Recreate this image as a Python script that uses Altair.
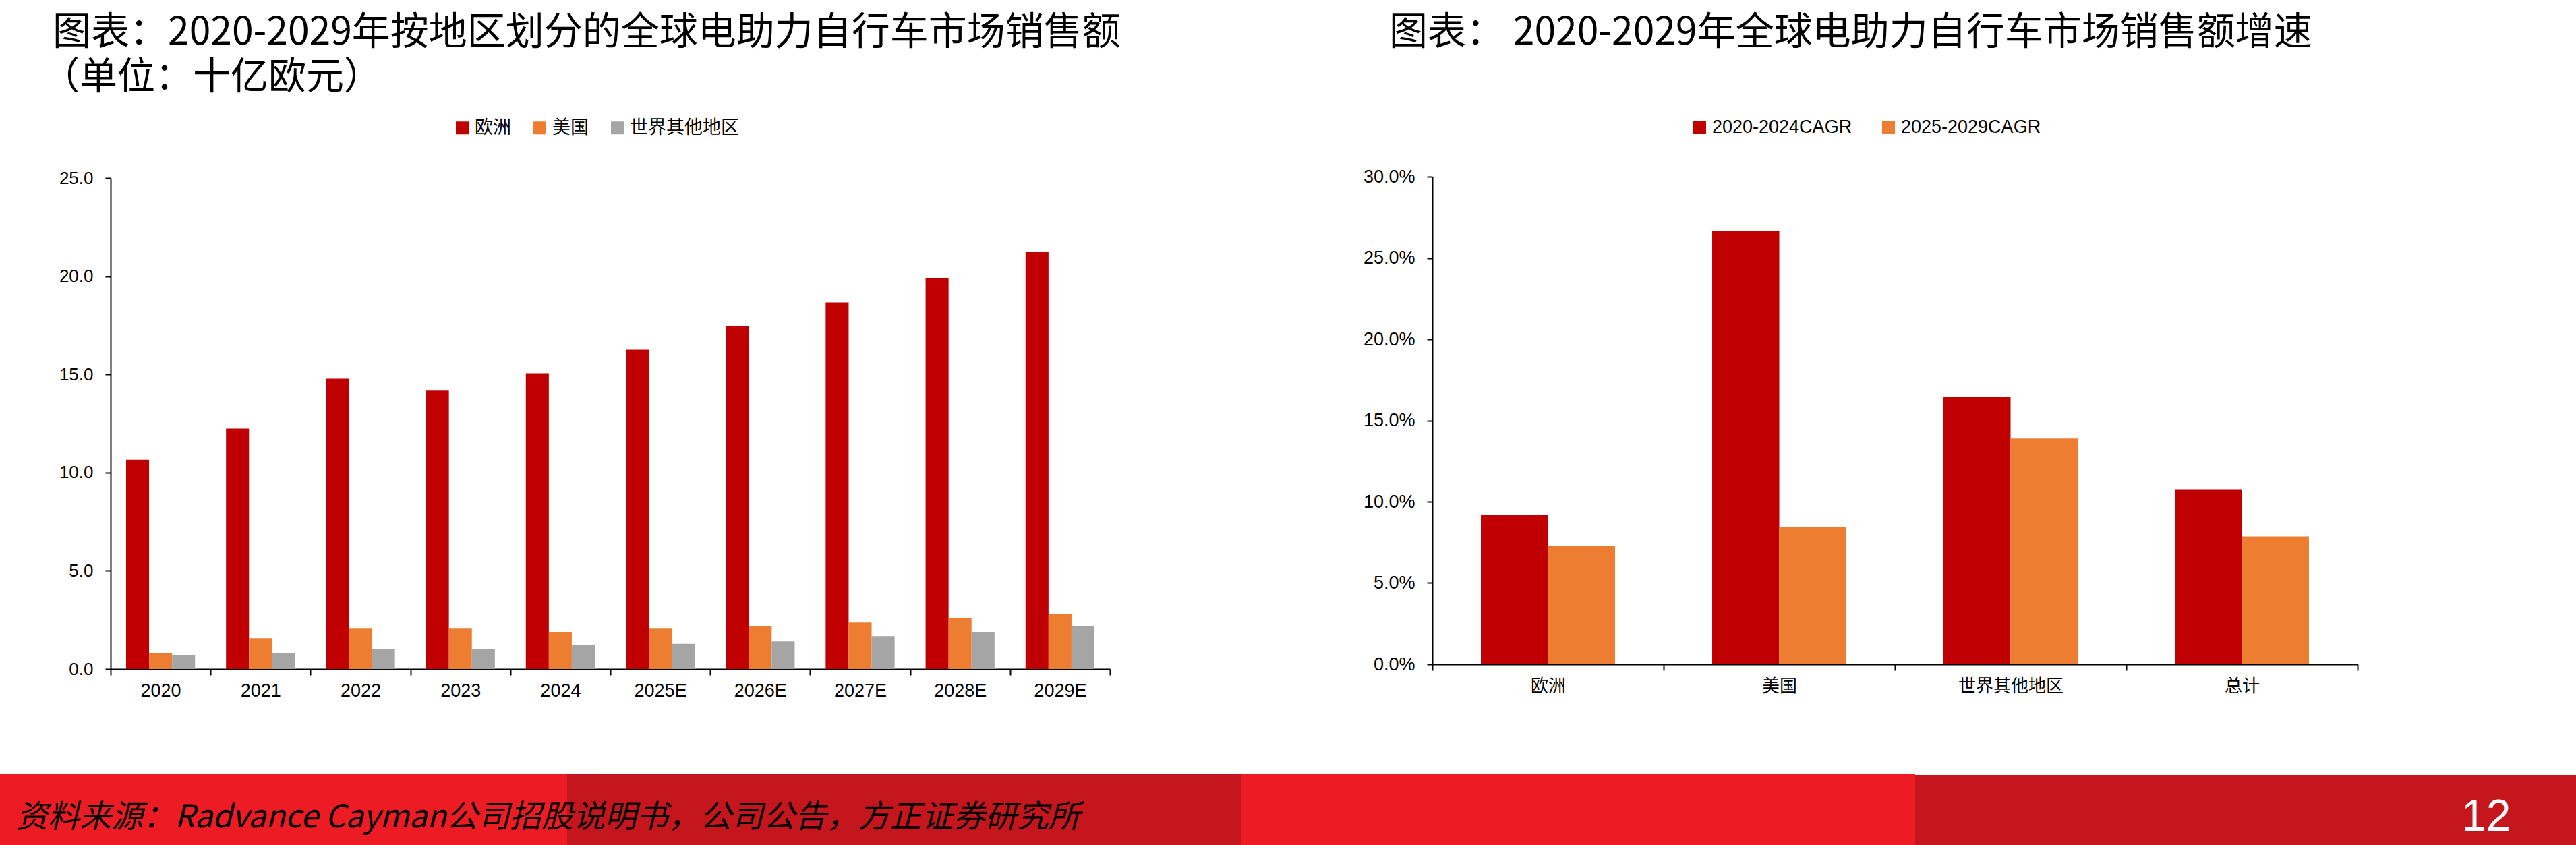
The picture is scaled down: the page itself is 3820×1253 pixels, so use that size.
import altair as alt
import pandas as pd

# ---- e-bike sales by region, billion EUR ----
YEARS = ["2020", "2021", "2022", "2023", "2024", "2025E", "2026E", "2027E", "2028E", "2029E"]
REGIONS = ["欧洲", "美国", "世界其他地区"]
EUROPE = [10.65, 12.24, 14.78, 14.17, 15.06, 16.26, 17.46, 18.66, 19.92, 21.26]
USA = [0.79, 1.57, 2.09, 2.09, 1.89, 2.09, 2.20, 2.36, 2.58, 2.78]
REST = [0.69, 0.79, 1.00, 1.00, 1.20, 1.28, 1.40, 1.67, 1.89, 2.20]
SALES_TICKS = [0, 5, 10, 15, 20, 25]

# ---- sales growth (CAGR) ----
GROUPS = ["欧洲", "美国", "世界其他地区", "总计"]
PERIODS = ["2020-2024CAGR", "2025-2029CAGR"]
CAGR_2020_2024 = [0.092, 0.2666, 0.1646, 0.1077]
CAGR_2025_2029 = [0.0729, 0.0846, 0.1389, 0.0786]
CAGR_TICKS = [0, 0.05, 0.10, 0.15, 0.20, 0.25, 0.30]

TITLE_LEFT_1 = "图表：2020-2029年按地区划分的全球电助力自行车市场销售额"
TITLE_LEFT_2 = "（单位：十亿欧元）"
TITLE_RIGHT = "图表： 2020-2029年全球电助力自行车市场销售额增速"
SOURCE = "资料来源：Radvance Cayman公司招股说明书，公司公告，方正证券研究所"
PAGE_NO = "12"

RED, ORANGE, GREY = "#C00000", "#ED7D31", "#A5A5A5"
BAND_BRIGHT, BAND_DARK = "#ED1C24", "#C4161C"

W, H = 3820, 1253
NUM_FONT = "Liberation Sans"
CJK_FONT = "Noto Sans CJK SC"

# plot frames (pixels on the page)
L_X0, L_X1, L_Y0, L_Y1 = 164, 1646, 992, 264
R_X0, R_X1, R_Y0, R_Y1 = 2124, 3496, 985, 262

sales = pd.DataFrame(
    [{"year": y, "region": r, "value": v}
     for r, vals in zip(REGIONS, [EUROPE, USA, REST])
     for y, v in zip(YEARS, vals)]
)
growth = pd.DataFrame(
    [{"group": g, "period": p, "value": v}
     for p, vals in zip(PERIODS, [CAGR_2020_2024, CAGR_2025_2029])
     for g, v in zip(GROUPS, vals)]
)
one = pd.DataFrame({"k": [0]})


def axis_style(**kw):
    base = dict(
        grid=False, title=None, domainColor="black", domainWidth=2,
        tickColor="black", tickWidth=2, labelColor="black",
    )
    base.update(kw)
    return alt.Axis(**base)


def legend_style(x, y, font, size, gap):
    return alt.Legend(
        orient="none", legendX=x, legendY=y, direction="horizontal", title=None,
        symbolType="square", symbolSize=361, symbolStrokeWidth=0,
        labelFont=font, labelFontSize=size, labelColor="black", labelLimit=0,
        labelOffset=5, columnPadding=gap, padding=0,
    )


left_bars = alt.Chart(sales).mark_bar().encode(
    x=alt.X(
        "year:N", sort=YEARS,
        scale=alt.Scale(domain=YEARS, range=[L_X0, L_X1], paddingInner=0, paddingOuter=0),
        axis=axis_style(orient="bottom", offset=L_Y0 - H, tickBand="extent", labelAngle=0,
                        labelFont=NUM_FONT, labelFontSize=27, labelPadding=10, tickSize=9),
    ),
    xOffset=alt.XOffset(
        "region:N", sort=REGIONS,
        scale=alt.Scale(domain=REGIONS, paddingInner=0, paddingOuter=0.674),
    ),
    y=alt.Y(
        "value:Q",
        scale=alt.Scale(domain=[0, 25], range=[L_Y0, L_Y1], nice=False),
        axis=axis_style(orient="left", offset=-L_X0, values=SALES_TICKS, format=".1f",
                        labelFont=NUM_FONT, labelFontSize=26, labelPadding=18, tickSize=8),
    ),
    color=alt.Color(
        "region:N", sort=REGIONS,
        scale=alt.Scale(domain=REGIONS, range=[RED, ORANGE, GREY]),
        legend=legend_style(672, 176, CJK_FONT, 27, 29),
    ),
)

right_bars = alt.Chart(growth).mark_bar().encode(
    x=alt.X(
        "group:N", sort=GROUPS,
        scale=alt.Scale(domain=GROUPS, range=[R_X0, R_X1], paddingInner=0, paddingOuter=0),
        axis=axis_style(orient="bottom", offset=R_Y0 - H, tickBand="extent", labelAngle=0,
                        labelFont=CJK_FONT, labelFontSize=26, labelPadding=10, tickSize=9),
    ),
    xOffset=alt.XOffset(
        "period:N", sort=PERIODS,
        scale=alt.Scale(domain=PERIODS, paddingInner=0, paddingOuter=0.724),
    ),
    y=alt.Y(
        "value:Q",
        scale=alt.Scale(domain=[0, 0.30], range=[R_Y0, R_Y1], nice=False),
        axis=axis_style(orient="left", offset=-R_X0, values=CAGR_TICKS, format=".1%",
                        labelFont=NUM_FONT, labelFontSize=27, labelPadding=18, tickSize=8),
    ),
    color=alt.Color(
        "period:N", sort=PERIODS,
        scale=alt.Scale(domain=PERIODS, range=[RED, ORANGE]),
        legend=legend_style(2507, 175, NUM_FONT, 27, 40),
    ),
)


def label(text, x, y, size, font, color="black", style="normal"):
    return alt.Chart(one).mark_text(
        text=text, align="left", baseline="middle", font=font, fontSize=size,
        fontStyle=style, color=color,
    ).encode(x=alt.value(x), y=alt.value(y))


def band(x0, x1, y0, color):
    return alt.Chart(one).mark_rect(color=color).encode(
        x=alt.value(x0), x2=alt.value(x1), y=alt.value(y0), y2=alt.value(H)
    )


footer = [
    band(0, 841, 1148, BAND_BRIGHT),
    band(841, 1840, 1148, BAND_DARK),
    band(1840, 2840, 1148, BAND_BRIGHT),
    band(2840, W, 1149, BAND_DARK),
    label(SOURCE, 24, 1213, 47, CJK_FONT, style="italic"),
    label(PAGE_NO, 3650, 1212, 66, NUM_FONT, color="white"),
]

titles = [
    label(TITLE_LEFT_1, 78, 49, 57, CJK_FONT),
    label(TITLE_LEFT_2, 62, 115, 56, CJK_FONT),
    label(TITLE_RIGHT, 2060, 49, 57, CJK_FONT),
]

chart = (
    alt.layer(*footer, *titles, left_bars, right_bars)
    .resolve_scale(x="independent", y="independent", xOffset="independent", color="independent")
    .properties(
        width=W, height=H, padding=0, background="white",
        autosize=alt.AutoSizeParams(type="none"),
    )
    .configure_view(strokeWidth=0)
)

chart.save("out.html", embed_options={"renderer": "svg", "actions": False})
